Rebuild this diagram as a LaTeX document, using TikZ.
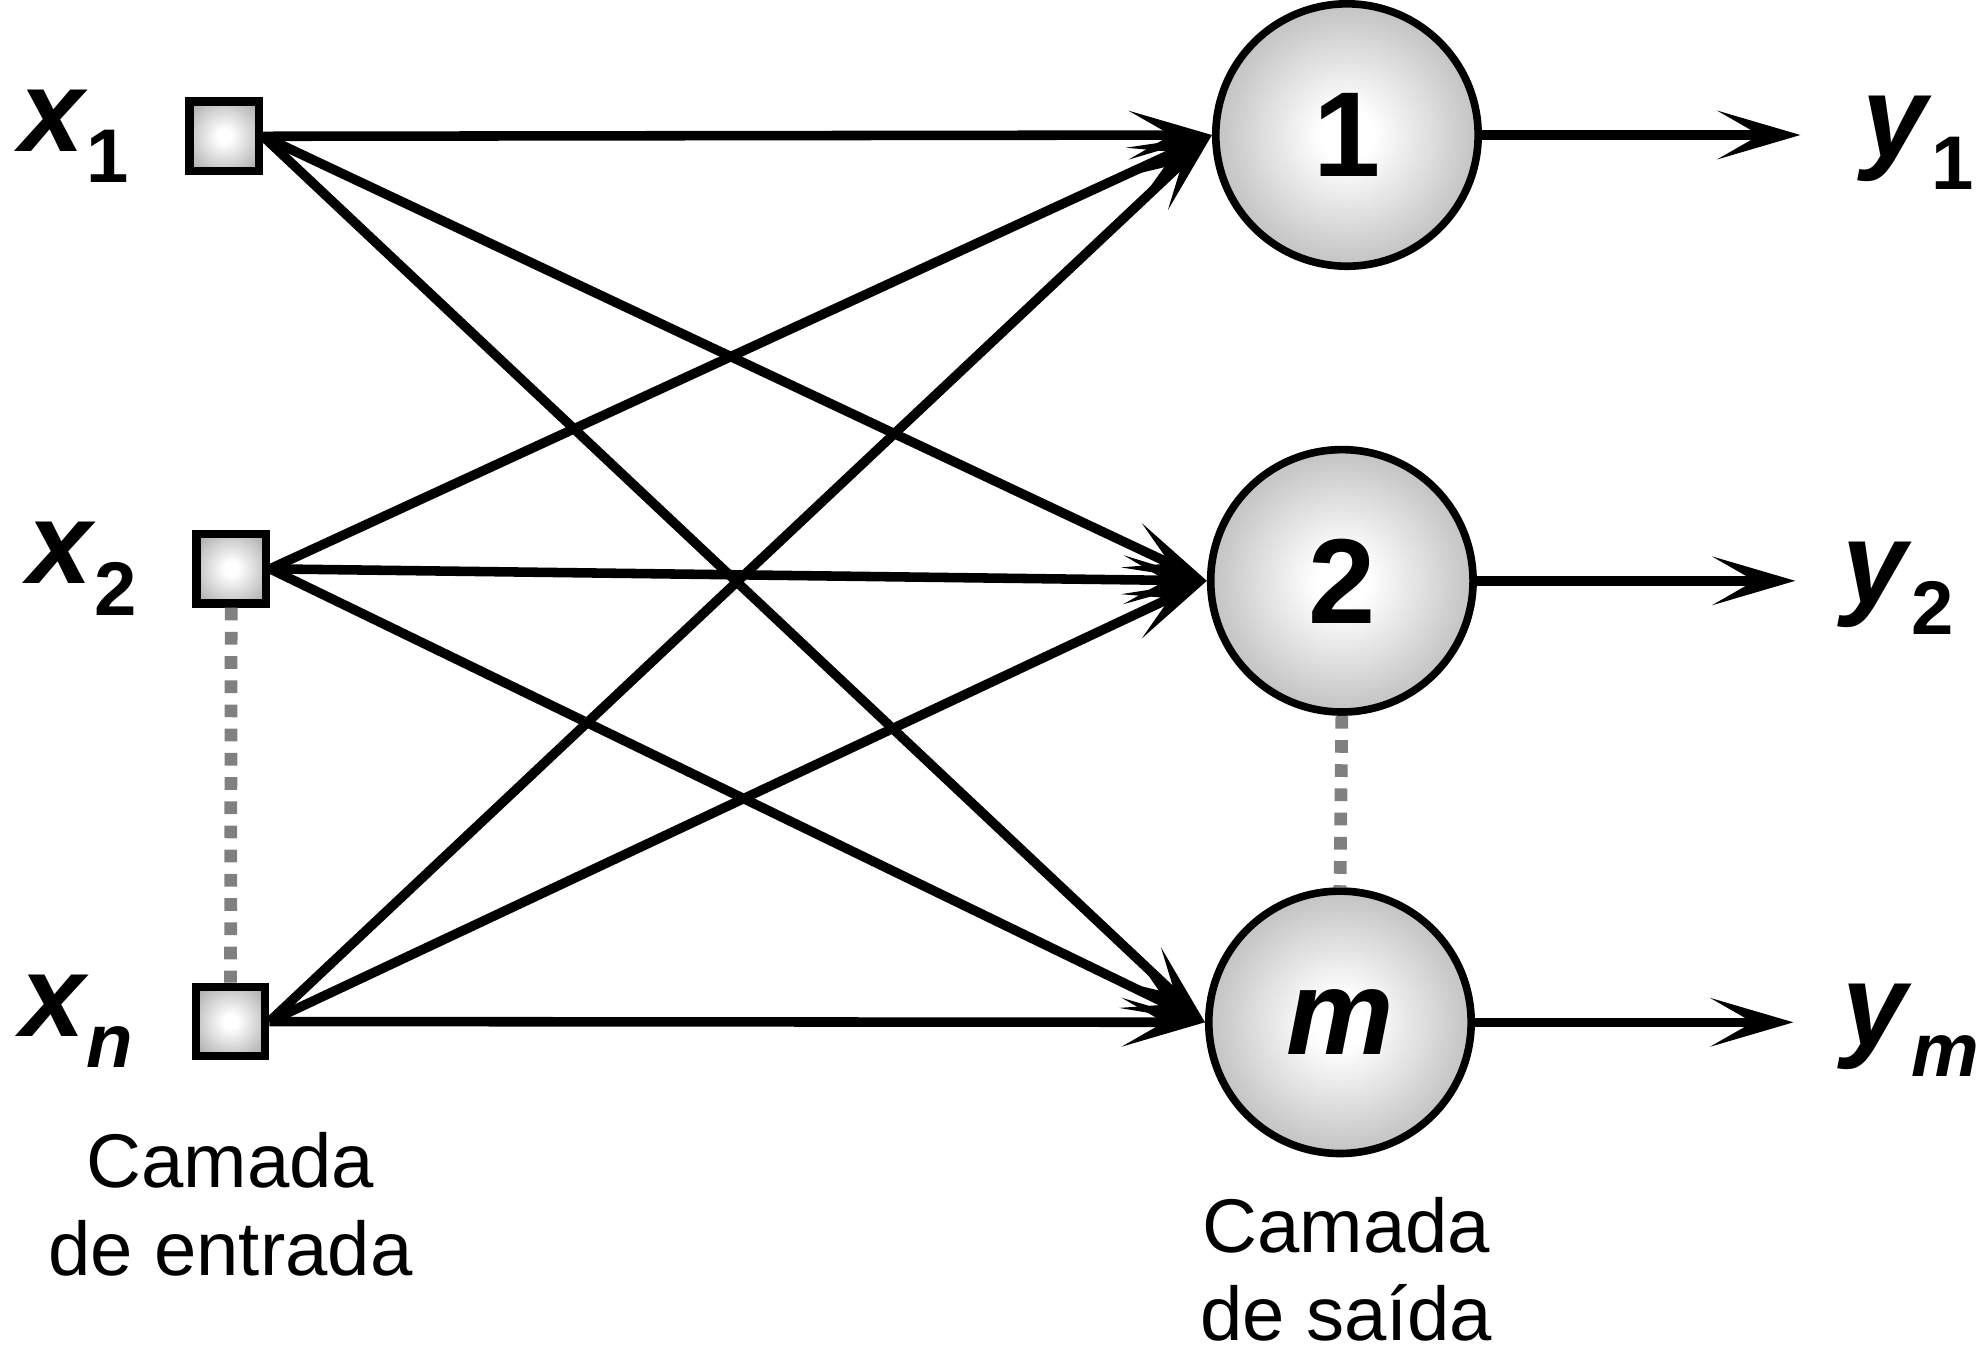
\documentclass[tikz,border=0pt]{standalone}
\usepackage{fontspec}
\setmainfont{Liberation Sans}
\usetikzlibrary{arrows.meta,positioning}
\pgfdeclareradialshading{glow}{\pgfpoint{0bp}{0bp}}{color(0bp)=(white);color(5bp)=(white);color(32bp)=(black!32);color(50bp)=(black!32)}
\newcommand{\lowidx}[1]{\raisebox{-7pt}{\fontsize{17}{17}\selectfont#1}}
\begin{document}
\begin{tikzpicture}[inbox/.style={draw=black,line width=0.065cm,minimum size=0.545cm,inner sep=0pt,shade,shading=glow},
    neuron/.style={circle,draw=black,line width=0.06cm,minimum size=2.06cm,inner sep=0pt,shade,shading=glow,font=\fontsize{27}{27}\selectfont\bfseries},
    conn/.style={line width=0.075cm,-{Stealth[length=0.65cm,width=0.38cm,inset=0.33cm]}},
    dots/.style={draw=black!50,line width=0.1cm,dash pattern=on 0.1cm off 0.09cm},
    var/.style={inner sep=0pt,font=\fontsize{26}{26}\selectfont\bfseries\itshape},
    caption/.style={inner sep=0pt,align=center,font=\fontsize{17}{19.6}\selectfont}]
    \useasboundingbox (0,0) rectangle (15.6,10.646);
    % input layer
    \node[inbox] (x1) at (1.76,9.576) {};
    \node[inbox] (x2) at (1.815,6.18) {};
    \node[inbox] (xn) at (1.81,2.626) {};
    \node[var,left=0.44cm of x1] (lx1) {x\kern0.5pt\lowidx{\upshape 1}};
    \node[var,left=0.43cm of x2] (lx2) {x\kern0.5pt\lowidx{\upshape 2}};
    \node[var,left=0.45cm of xn] (lxn) {x\kern0.5pt\lowidx{n}};
    \draw[dots] (x2.south) -- (xn.north);
    \node[caption,below=0.56cm of xn] (cin) {Camada\\de entrada};
    % output layer
    \node[neuron] (o1) at (10.575,9.586) {1};
    \node[neuron] (o2) at (10.535,6.086) {2};
    \node[neuron] (om) at (10.52,2.62) {\itshape m};
    \draw[dots] (o2.south) -- (om.north);
    \node[caption,below=0.31cm of om,xshift=0.05cm] (cout) {Camada\\de saída};
    % weights
    \foreach \i in {x1,x2,xn}
        \foreach \j in {o1,o2,om}
            \draw[conn] (\i.east) -- (\j.west);
    % outputs
    \coordinate[right=2.5cm of o1.east] (t1);
    \coordinate[right=2.5cm of o2.east] (t2);
    \coordinate[right=2.5cm of om.east] (tm);
    \draw[conn] (o1.east) -- (t1);
    \draw[conn] (o2.east) -- (t2);
    \draw[conn] (om.east) -- (tm);
    \node[var,right=0.48cm of t1,yshift=-0.06cm] (ly1) {y\kern1pt\lowidx{\upshape 1}};
    \node[var,right=0.36cm of t2,yshift=-0.06cm] (ly2) {y\kern1pt\lowidx{\upshape 2}};
    \node[var,right=0.38cm of tm,yshift=-0.06cm] (lym) {y\kern1pt\lowidx{m}};
\end{tikzpicture}
\end{document}
